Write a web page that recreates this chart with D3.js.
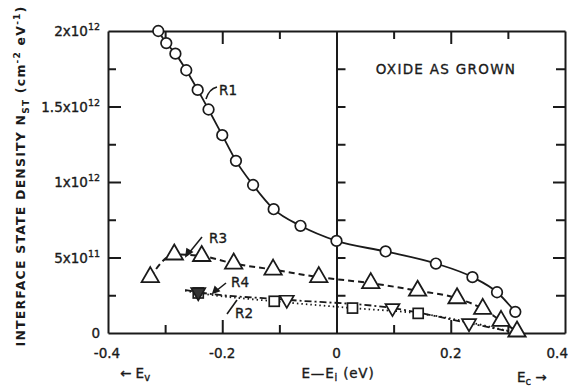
<!DOCTYPE html>
<html><head><meta charset="utf-8">
<script src="https://cdn.jsdelivr.net/npm/d3@7"></script>
<style>
body{margin:0;background:#fff;}
text{font-family:"DejaVu Sans",sans-serif;fill:#1a1a1a;stroke:#1a1a1a;stroke-width:0.35px;}
</style></head>
<body>
<svg id="c" width="570" height="386"></svg>
<script>
// ---- data (x in eV, y in units of 1e12 cm^-2 eV^-1) ----
const r1X = [-0.312,-0.298,-0.282,-0.263,-0.243,-0.224,-0.200,-0.176,-0.146,-0.110,-0.063,0.000,0.086,0.174,0.238,0.281,0.313];
const r1Y = [2.00,1.92,1.85,1.74,1.61,1.48,1.31,1.14,0.98,0.82,0.71,0.61,0.54,0.46,0.37,0.27,0.14];
const r3X = [-0.326,-0.284,-0.236,-0.180,-0.111,-0.031,0.060,0.142,0.211,0.256,0.288,0.316];
const r3Y = [0.37,0.52,0.51,0.46,0.42,0.37,0.33,0.28,0.23,0.16,0.08,0.01];
const r4X = [-0.265,-0.242,-0.087,0.098,0.232,0.316];
const r4Y = [0.285,0.27,0.22,0.165,0.065,0.0];
const r4Mark = [0,1,1,1,1,0];
const r2X = [-0.265,-0.242,-0.109,0.028,0.143,0.316];
const r2Y = [0.28,0.265,0.21,0.165,0.13,0.0];
const r2Mark = [0,1,1,1,1,0];
const xTicks = [-0.4,-0.2,0,0.2,0.4];
const xTickLabels = ["-0.4","-0.2","0","0.2","0.4"];
const yTicks = [0,0.5,1,1.5,2];
const yTickMant = ["0","5x10","1x10","1.5x10","2x10"];
const yTickExp = ["","11","12","12","12"];

(function(){
const svg = d3.select("#c");
const x = d3.scaleLinear().domain([-0.4,0.4]).range([108,565]);
const y = d3.scaleLinear().domain([0,2]).range([333,31]);
const K = "#1a1a1a";

const minorX = d3.range(-0.4,0.4001,0.1);
const minorY = d3.range(0,2.001,0.25);
const isMajX = v => Math.abs(Math.round(v*10))%2===0;
const isMajY = v => Math.abs(Math.round(v*4))%2===0;

const gB = svg.append("g").attr("transform",`translate(0,${y(0)})`)
  .call(d3.axisBottom(x).tickValues(minorX).tickSizeOuter(0).tickFormat(""));
const gT = svg.append("g").attr("transform",`translate(0,${y(2)})`)
  .call(d3.axisTop(x).tickValues(minorX).tickSizeOuter(0).tickFormat(""));
const gL = svg.append("g").attr("transform",`translate(${x(-0.4)},0)`)
  .call(d3.axisLeft(y).tickValues(minorY).tickSizeOuter(0).tickFormat(""));
const gR = svg.append("g").attr("transform",`translate(${x(0.4)},0)`)
  .call(d3.axisRight(y).tickValues(minorY).tickSizeOuter(0).tickFormat(""));
const gM = svg.append("g").attr("transform",`translate(${x(0)},0)`)
  .call(d3.axisLeft(y).tickValues(minorY).tickSizeOuter(0).tickFormat(""));
[gB,gT,gL,gR,gM].forEach(g=>{
  g.select(".domain").attr("stroke",K).attr("stroke-width",2);
  g.selectAll(".tick line").attr("stroke",K).attr("stroke-width",2);
});
gB.selectAll(".tick line").attr("y2",d=>isMajX(d)?-13:-8);
gT.selectAll(".tick line").attr("y2",d=>isMajX(d)?13:8);
gL.selectAll(".tick line").attr("x2",d=>isMajY(d)?13:8);
gR.selectAll(".tick line").attr("x2",d=>isMajY(d)?-12:-9);
gM.selectAll(".tick line").attr("x2",d=>(d>0&&d<2)?9:0);
gB.selectAll(".tick").filter(d=>Math.abs(d)>0.39||Math.abs(d)<0.01).remove();
gT.selectAll(".tick").filter(d=>Math.abs(d)>0.39||Math.abs(d)<0.01).remove();
gL.selectAll(".tick").filter(d=>d<0.01||d>1.99).remove();
gR.selectAll(".tick").filter(d=>d<0.01||d>1.99).remove();

svg.append("g").selectAll("text").data(xTicks).join("text")
  .attr("x",(d,i)=>i===4?568:x(d)+(i===0?-1:0))
  .attr("y",358)
  .attr("text-anchor",(d,i)=>i===4?"end":"middle").attr("font-size",13.5).text((d,i)=>xTickLabels[i]);
const yl = svg.append("g").selectAll("text").data(yTicks).join("text")
  .attr("x",100).attr("y",d=>y(d)+5).attr("text-anchor","end").attr("font-size",13.5);
yl.append("tspan").text((d,i)=>yTickMant[i]);
yl.append("tspan").attr("font-size",9.5).attr("dy",-6).text((d,i)=>yTickExp[i]);

const xt = svg.append("text").attr("x",338).attr("y",378).attr("text-anchor","middle")
  .attr("font-size",13.5).attr("letter-spacing",0.8);
xt.append("tspan").text("E\u2014E");
xt.append("tspan").attr("font-size",10).attr("dy",3).text("i");
xt.append("tspan").attr("dy",-3).text(" (eV)");
const ev = svg.append("text").attr("x",120).attr("y",378).attr("font-size",13.5);
ev.append("tspan").text("\u2190 E");
ev.append("tspan").attr("font-size",10).attr("dy",3).text("v");
const ec = svg.append("text").attr("x",517).attr("y",382).attr("font-size",13.5);
ec.append("tspan").text("E");
ec.append("tspan").attr("font-size",10).attr("dy",3).text("c");
ec.append("tspan").attr("dy",-3).text(" \u2192");

const ytt = svg.append("text").attr("transform","translate(25,176) rotate(-90)")
  .attr("text-anchor","middle").attr("font-size",12.5).attr("font-weight","bold").attr("letter-spacing",1.2)
  .style("stroke-width","0px");
ytt.append("tspan").text("INTERFACE  STATE  DENSITY  N");
ytt.append("tspan").attr("font-size",9).attr("dy",4).text("ST");
ytt.append("tspan").attr("dy",-4).text(" (cm");
ytt.append("tspan").attr("font-size",9).attr("dy",-5).text("-2");
ytt.append("tspan").attr("dy",5).text(" eV");
ytt.append("tspan").attr("font-size",9).attr("dy",-5).text("-1");
ytt.append("tspan").attr("dy",5).text(")");

svg.append("text").attr("x",446).attr("y",74).attr("text-anchor","middle")
  .attr("font-size",13.5).attr("letter-spacing",1.3).text("OXIDE  AS  GROWN");

const line = (xs,ys)=>d3.line().curve(d3.curveMonotoneX)(xs.map((v,i)=>[x(v),y(ys[i])]));
svg.append("path").attr("d",line(r2X,r2Y)).attr("fill","none").attr("stroke",K)
  .attr("stroke-width",1.8).attr("stroke-dasharray","1.5,3");
svg.append("path").attr("d",line(r4X,r4Y)).attr("fill","none").attr("stroke",K)
  .attr("stroke-width",1.8).attr("stroke-dasharray","7,3,2,3");
svg.append("path").attr("d",line(r3X,r3Y)).attr("fill","none").attr("stroke",K)
  .attr("stroke-width",2).attr("stroke-dasharray","6,4");
svg.append("path").attr("d",line(r1X,r1Y)).attr("fill","none").attr("stroke",K)
  .attr("stroke-width",1.8);

svg.append("g").selectAll("circle").data(r1X).join("circle")
  .attr("cx",d=>x(d)).attr("cy",(d,i)=>y(r1Y[i])).attr("r",5.3)
  .attr("fill","#fff").attr("stroke",K).attr("stroke-width",1.7);
const tri = d3.symbol().type(d3.symbolTriangle).size(130);
svg.append("g").selectAll("path").data(r3X).join("path")
  .attr("d",tri).attr("transform",(d,i)=>`translate(${x(d)},${y(r3Y[i])})`)
  .attr("fill","#fff").attr("stroke",K).attr("stroke-width",1.8);
const r2Pts = r2X.map((v,i)=>[v,r2Y[i]]).filter((p,i)=>r2Mark[i]);
svg.append("g").selectAll("rect").data(r2Pts).join("rect")
  .attr("x",d=>x(d[0])-5).attr("y",d=>y(d[1])-5).attr("width",10).attr("height",10)
  .attr("fill","#fff").attr("stroke",K).attr("stroke-width",1.7);
const r4Pts = r4X.map((v,i)=>[v,r4Y[i]]).filter((p,i)=>r4Mark[i]);
const itri = d3.symbol().type(d3.symbolTriangle).size(85);
svg.append("g").selectAll("path").data(r4Pts).join("path")
  .attr("d",itri).attr("transform",(d,i)=>`translate(${x(d[0])},${y(d[1])}) rotate(180)`)
  .attr("fill",(d,i)=>i===0?"#333":"#fff").attr("stroke",K).attr("stroke-width",1.7);

const ann = svg.append("g").attr("stroke",K).attr("stroke-width",1.6).attr("fill","none");
ann.append("path").attr("d","M217,87 Q209,89 206,99");
ann.append("path").attr("d","M202,237 L189,253");
ann.append("path").attr("d","M186,256 L187,249 L192,252 Z").attr("fill",K);
ann.append("path").attr("d","M226,283 L216,291");
ann.append("path").attr("d","M213,293 L215,287 L219,291 Z").attr("fill",K);
ann.append("path").attr("d","M227,314 L237,300");
svg.append("text").attr("x",219).attr("y",95).attr("font-size",13.5).text("R1");
svg.append("text").attr("x",209).attr("y",243).attr("font-size",13.5).text("R3");
svg.append("text").attr("x",231).attr("y",287).attr("font-size",13.5).text("R4");
svg.append("text").attr("x",235).attr("y",318).attr("font-size",13.5).text("R2");
})();
</script>
</body></html>
